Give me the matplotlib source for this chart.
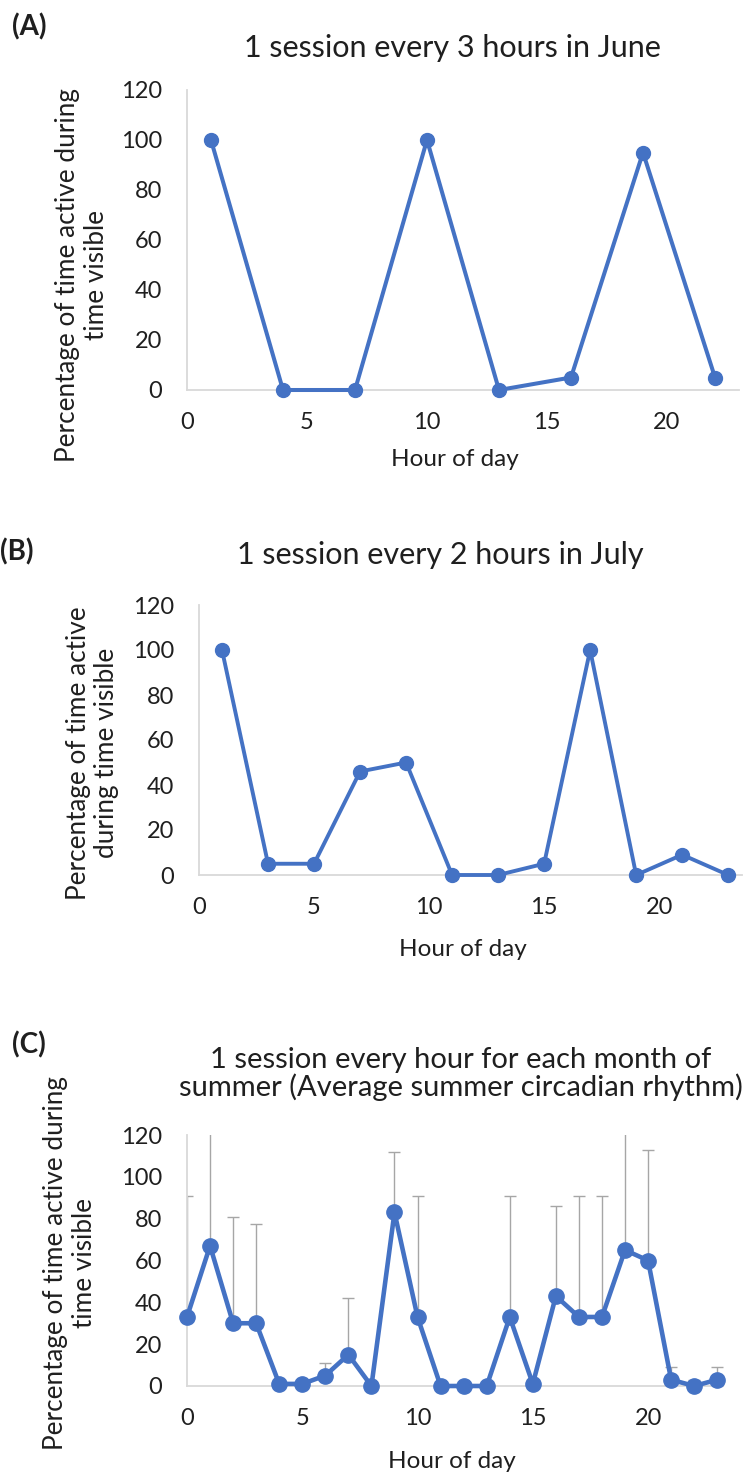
import matplotlib
matplotlib.use("Agg")
import matplotlib.pyplot as plt

plt.rcParams['font.family'] = ['Lato', 'DejaVu Sans']

# Panel A data
hours_a = [1, 4, 7, 10, 13, 16, 19, 22]
vals_a = [100, 0, 0, 100, 0, 5, 95, 5]

# Panel B data
hours_b = [1, 3, 5, 7, 9, 11, 13, 15, 17, 19, 21, 23]
vals_b = [100, 5, 5, 46, 50, 0, 0, 5, 100, 0, 9, 0]

# Panel C data
hours_c = list(range(24))
vals_c = [33, 67, 30, 30, 1, 1, 5, 15, 0, 83, 33, 0, 0, 0, 33, 1, 43, 33, 33, 65, 60, 3, 0, 3]
err_up_c = [58, 70, 51, 47.5, 0, 1, 6, 27, 0, 29, 58, 0, 0, 0, 58, 0, 43, 58, 58, 70, 53, 6, 3, 6]

yticks = [0, 20, 40, 60, 80, 100, 120]
xticks = [0, 5, 10, 15, 20]
titles = ["1 session every 3 hours in June",
          "1 session every 2 hours in July",
          "1 session every hour for each month of\nsummer (Average summer circadian rhythm)"]
ylabels = ["Percentage of time active during\ntime visible",
           "Percentage of time active\nduring time visible",
           "Percentage of time active during\ntime visible"]
panel_tags = ["(A)", "(B)", "(C)"]
xlabel = "Hour of day"

W, H = 744, 1474
fig = plt.figure(figsize=(W / 100, H / 100), dpi=100)

LINE = '#4472C4'
AXC = '#D9D9D9'
TXT = '#1f1f1f'
FS = 17


def add_axes(left, right, top, bottom):
    return fig.add_axes([left / W, 1 - bottom / H, (right - left) / W, (bottom - top) / H])


def style(ax, xmax):
    ax.set_xlim(0, xmax)
    ax.set_ylim(0, 120)
    ax.set_yticks(yticks)
    ax.set_xticks(xticks)
    for s in ['top', 'right']:
        ax.spines[s].set_visible(False)
    for s in ['left', 'bottom']:
        ax.spines[s].set_color(AXC)
        ax.spines[s].set_linewidth(1.3)
    ax.tick_params(axis='both', length=0, labelsize=FS, colors=TXT)
    ax.tick_params(axis='y', pad=18)
    ax.tick_params(axis='x', pad=16)
    ax.patch.set_alpha(0)


def ftext(x, y, s, **kw):
    fig.text(x / W, 1 - y / H, s, **kw)


# Panel A
axA = add_axes(187, 739, 90, 390)
style(axA, 23)
axA.plot(hours_a, vals_a, color=LINE, lw=2.9, marker='o', ms=10, clip_on=False, zorder=3)

# Panel B
axB = add_axes(199, 742, 605, 875)
style(axB, 23.6)
axB.plot(hours_b, vals_b, color=LINE, lw=2.8, marker='o', ms=10, clip_on=False, zorder=3)

# Panel C
axC = add_axes(187, 723, 1135, 1386)
style(axC, 23.25)
axC.errorbar(hours_c, vals_c, yerr=[[0] * 24, err_up_c], fmt='none', ecolor='#A6A6A6',
             elinewidth=1.0, capsize=4, capthick=1.0, zorder=2)
axC.plot(hours_c, vals_c, color=LINE, lw=3.3, marker='o', ms=11, clip_on=False, zorder=3)

# Titles, labels
ftext(452, 48, titles[0], ha='center', va='center', fontsize=22, color=TXT)
ftext(440, 555, titles[1], ha='center', va='center', fontsize=22, color=TXT)
ftext(461, 1074, titles[2], ha='center', va='center', fontsize=21, color=TXT,
      linespacing=1.05)

ftext(12, 27, panel_tags[0], ha='left', va='center', fontsize=20, fontweight='bold', color=TXT)
ftext(0, 552, panel_tags[1], ha='left', va='center', fontsize=20, fontweight='bold', color=TXT)
ftext(12, 1045, panel_tags[2], ha='left', va='center', fontsize=20, fontweight='bold', color=TXT)

YLFS = 18.8
ftext(82, 275, ylabels[0], ha='center', va='center', rotation=90, fontsize=YLFS,
      color=TXT, linespacing=1.15, multialignment='center')
ftext(93, 753, ylabels[1], ha='center', va='center', rotation=90, fontsize=YLFS,
      color=TXT, linespacing=1.15, multialignment='center')
ftext(70, 1263, ylabels[2], ha='center', va='center', rotation=90, fontsize=YLFS,
      color=TXT, linespacing=1.15, multialignment='center')

ftext(455, 459, xlabel, ha='center', va='center', fontsize=17.5, color=TXT)
ftext(463, 950, xlabel, ha='center', va='center', fontsize=17.5, color=TXT)
ftext(452, 1462, xlabel, ha='center', va='center', fontsize=17.5, color=TXT)

fig.savefig('out.png', dpi=100)
